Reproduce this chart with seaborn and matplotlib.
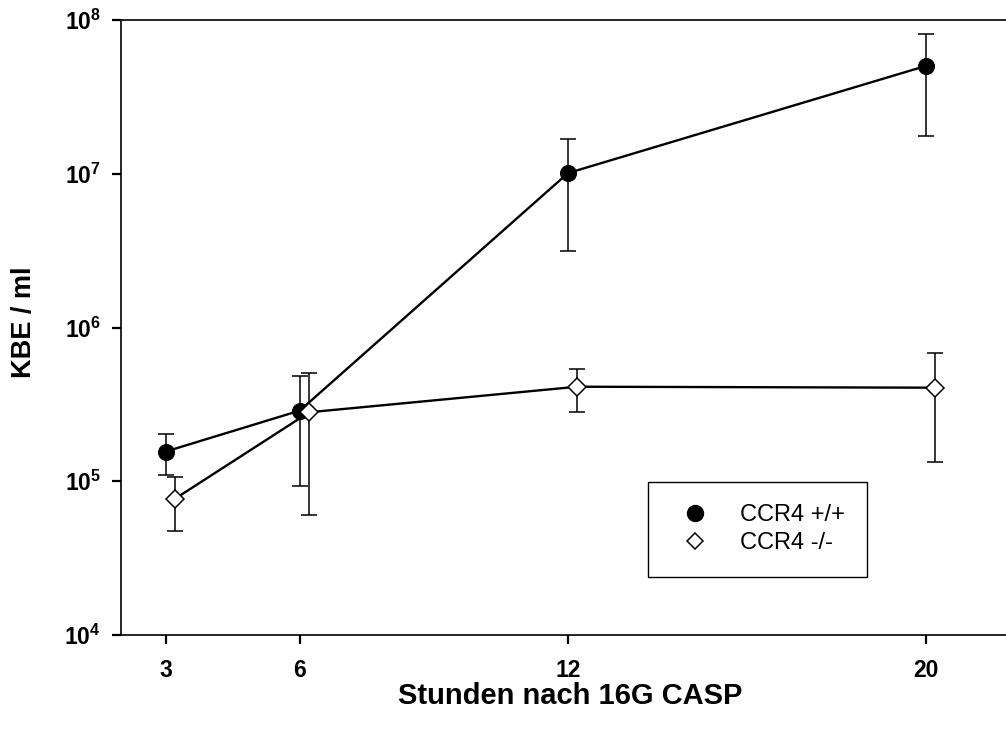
import numpy as np
import pandas as pd
import matplotlib
matplotlib.use("Agg")
import matplotlib.pyplot as plt
from matplotlib.lines import Line2D
from matplotlib.ticker import FixedLocator, FixedFormatter, NullLocator
import seaborn as sns

# ---------------- data ----------------
hours = [3, 6, 12, 20]
x_tick_labels = ["3", "6", "12", "20"]

wt_label = "CCR4 +/+"
wt_mean = [1.56e5, 2.88e5, 1.01e7, 5.02e7]
wt_low = [1.10e5, 9.35e4, 3.15e6, 1.76e7]
wt_high = [2.02e5, 4.81e5, 1.68e7, 8.15e7]

ko_label = "CCR4 -/-"
ko_mean = [7.70e4, 2.81e5, 4.12e5, 4.06e5]
ko_low = [4.77e4, 6.03e4, 2.83e5, 1.33e5]
ko_high = [1.06e5, 5.06e5, 5.40e5, 6.86e5]

y_tick_values = [1e4, 1e5, 1e6, 1e7, 1e8]
y_tick_labels = [r"$\mathbf{10^{4}}$", r"$\mathbf{10^{5}}$", r"$\mathbf{10^{6}}$",
                 r"$\mathbf{10^{7}}$", r"$\mathbf{10^{8}}$"]

x_label = "Stunden nach 16G CASP"
y_label = "KBE / ml"

# ---------------- style ----------------
sns.set_style("ticks")
plt.rcParams["font.family"] = ["Liberation Sans", "DejaVu Sans"]
plt.rcParams["mathtext.fontset"] = "custom"
plt.rcParams["mathtext.rm"] = "Liberation Sans"
plt.rcParams["mathtext.bf"] = "Liberation Sans:bold"
plt.rcParams["text.color"] = "black"
plt.rcParams["axes.labelcolor"] = "black"

KO_SHIFT = 0.21  # horizontal shift of knockout series (hours) so markers don't overlap

df_wt = pd.DataFrame({"x": hours, "y": wt_mean, "lo": wt_low, "hi": wt_high})
df_ko = pd.DataFrame({"x": np.array(hours) + KO_SHIFT, "y": ko_mean, "lo": ko_low, "hi": ko_high})

W, H = 1006, 740
fig = plt.figure(figsize=(W / 100, H / 100), dpi=100)
ax_left, ax_bottom, ax_top = 121, 635, 20
ax_right = 121 + 894
ax = fig.add_axes([ax_left / W, (H - ax_bottom) / H, (ax_right - ax_left) / W, (ax_bottom - ax_top) / H])

# error bars (below markers)
for d in (df_wt, df_ko):
    yerr = np.vstack([d["y"] - d["lo"], d["hi"] - d["y"]])
    ax.errorbar(d["x"], d["y"], yerr=yerr, fmt="none", ecolor="black",
                elinewidth=1.1, capsize=6, capthick=1.1, zorder=2)

sns.lineplot(data=df_wt, x="x", y="y", ax=ax, color="black", linewidth=1.7,
             marker="o", markersize=11.5, markerfacecolor="black",
             markeredgecolor="black", errorbar=None, estimator=None, zorder=3)
sns.lineplot(data=df_ko, x="x", y="y", ax=ax, color="black", linewidth=1.7,
             marker="D", markersize=9.5, markerfacecolor="white",
             markeredgecolor="black", markeredgewidth=1.1, errorbar=None,
             estimator=None, zorder=4)

ax.set_yscale("log")
ax.set_ylim(1e4, 1e8)
ax.set_xlim(2, 22)
ax.yaxis.set_major_locator(FixedLocator(y_tick_values))
ax.yaxis.set_major_formatter(FixedFormatter(y_tick_labels))
ax.yaxis.set_minor_locator(NullLocator())
ax.xaxis.set_major_locator(FixedLocator(hours))
ax.xaxis.set_major_formatter(FixedFormatter(x_tick_labels))

for sp in ax.spines.values():
    sp.set_color("black")
    sp.set_linewidth(1.2)

ax.tick_params(axis="both", direction="out", length=6.5, width=1.6, colors="black",
               labelcolor="black")
ax.tick_params(axis="x", pad=11, labelsize=16.5)
ax.tick_params(axis="y", pad=8, labelsize=16.5)
for lab in ax.get_xticklabels():
    lab.set_fontweight("bold")

ax.set_xlabel(x_label, fontsize=21, fontweight="bold", color="black")
ax.set_ylabel(y_label, fontsize=19.5, fontweight="bold", color="black")
ax.xaxis.label.set_va("center")
ax.yaxis.label.set_va("center")
ax.xaxis.set_label_coords(0.502, (ax_bottom - 696) / (ax_bottom - ax_top))
ax.yaxis.set_label_coords((24 - ax_left) / (ax_right - ax_left), (ax_bottom - 322.5) / (ax_bottom - ax_top))

handles = [
    Line2D([], [], linestyle="none", marker="o", markersize=11.5,
           markerfacecolor="black", markeredgecolor="black"),
    Line2D([], [], linestyle="none", marker="D", markersize=8.5,
           markerfacecolor="white", markeredgecolor="black", markeredgewidth=1.1),
]
leg = fig.legend(handles, [wt_label, ko_label], loc="upper left",
                 bbox_to_anchor=(648 / W, 1 - 482 / H), borderaxespad=0,
                 fontsize=17, frameon=True, fancybox=False, shadow=False,
                 borderpad=0.95, labelspacing=0.25, handlelength=2.1,
                 handletextpad=0.85)
for t in leg.get_texts():
    t.set_color("black")
leg.get_frame().set_edgecolor("black")
leg.get_frame().set_linewidth(1.0)
leg.get_frame().set_alpha(1)

fig.savefig("out.png", dpi=100)
